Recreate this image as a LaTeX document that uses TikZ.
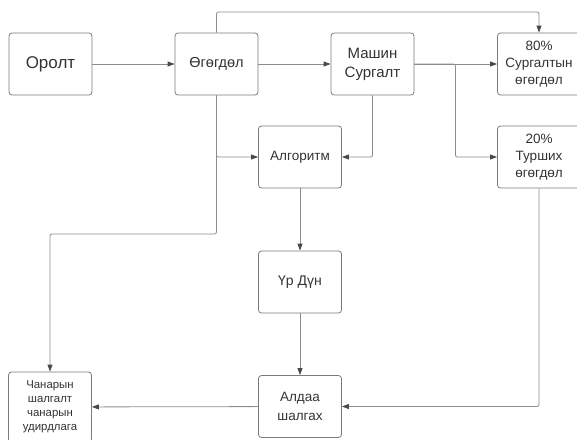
\documentclass[tikz,border=0pt]{standalone}
\usepackage{fontspec}
\setmainfont{Liberation Sans}
\usetikzlibrary{arrows.meta, positioning}

\definecolor{boxline}{HTML}{7A7A7A}
\definecolor{wire}{HTML}{8C8C8C}
\definecolor{tipcol}{HTML}{4A4A4A}
\definecolor{ink}{HTML}{333333}

\begin{document}
\begin{tikzpicture}[
      x=1pt, y=-1pt,
      >={Triangle[length=7pt, width=5pt, color=tipcol]},
      box/.style={draw=boxline, line width=0.8pt, rounded corners=3pt, minimum width=83pt, minimum height=62pt, align=center, text=ink, inner sep=1pt},
      link/.style={->, draw=wire, line width=0.8pt, rounded corners=2pt}
    ]
    \useasboundingbox (0,0) rectangle (577,439);

    \node[box, font=\fontsize{17}{20}\selectfont] (input) at (50.5,64) {Оролт};
    \node[box, font=\fontsize{14.5}{16}\selectfont] (data) at (216.5,64) {Өгөгдөл};
    \node[box, font=\fontsize{15}{19}\selectfont] (ml) at (372.5,64) {Машин\\Сургалт};
    \node[box, font=\fontsize{13.5}{16.7}\selectfont] (train) at (539,64) {80\%\\Сургалтын\\өгөгдөл};
    \node[box, font=\fontsize{13.5}{16.7}\selectfont] (test) at (539,157) {20\%\\Турших\\өгөгдөл};

    \node[box, font=\fontsize{13.5}{16}\selectfont] (algo) at (300,157) {Алгоритм};
    \node[box, font=\fontsize{14}{16}\selectfont] (result) at (300,282) {Үр Дүн};
    \node[box, font=\fontsize{13.5}{19}\selectfont] (error) at (300,406.5) {Алдаа\\шалгах};
    \node[box, minimum height=70pt, font=\fontsize{11.4}{14}\selectfont] (quality) at (50,407) {Чанарын\\шалгалт\\чанарын\\удирдлага};

    \coordinate (top) at (216.5,12);
    \coordinate (bend) at (216.5,234);

    \draw[link] (input) -- (data);
    \draw[link] (data) -- (ml);
    \draw[link] (ml) -- (train);
    \draw[link] (data.north) -- (top) -| (train.north);
    \draw[link] (ml.east) -- ++(41,0) |- (test.west);
    \draw[link] (ml.south) |- (algo.east);
    \draw[link] (data.south) |- (algo.west);
    \draw[link] (data.south) -- (bend) -| (quality.north);
    \draw[link] (algo) -- (result);
    \draw[link] (result) -- (error);
    \draw[link] (test.south) |- (error.east);
    \draw[link] (error) -- (quality);

  \end{tikzpicture}
\end{document}
